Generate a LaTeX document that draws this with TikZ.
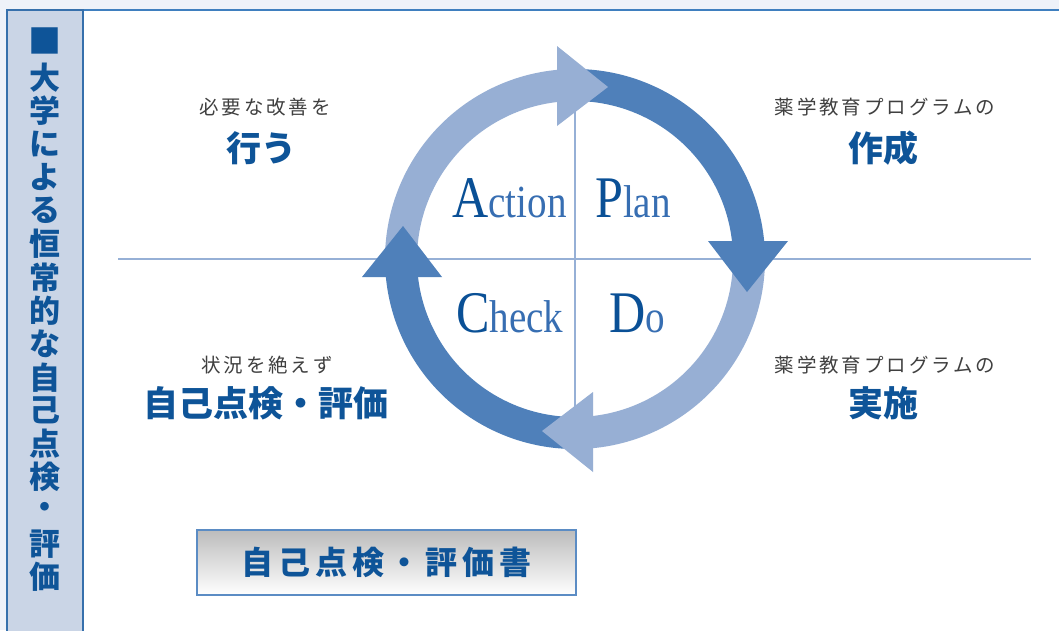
\documentclass[tikz,border=0pt]{standalone}
\usepackage{fontspec}
\newfontfamily\jp{Noto Sans CJK JP}
\newfontfamily\jpsp[LetterSpace=15]{Noto Sans CJK JP}
\newfontfamily\lat[FakeStretch=0.85]{Liberation Serif}
\usetikzlibrary{calc}
\definecolor{bgout}{RGB}{238,242,249}
\definecolor{topline}{RGB}{63,127,191}
\definecolor{side}{RGB}{202,213,230}
\definecolor{sideline}{RGB}{54,112,172}
\definecolor{bluetxt}{RGB}{14,84,152}
\definecolor{capblue}{RGB}{10,80,150}
\definecolor{lowblue}{RGB}{55,110,178}
\definecolor{graytxt}{RGB}{64,64,64}
\definecolor{crossline}{RGB}{150,176,214}
\definecolor{darkband}{RGB}{79,128,186}
\definecolor{lightband}{RGB}{151,175,212}
\definecolor{boxline}{RGB}{91,140,196}
\definecolor{boxtop}{RGB}{188,188,188}
\definecolor{boxmid}{RGB}{242,242,242}
\newcommand\pdcaband[3]{%
  \fill[#1] ($(c)+(#2:190)$) arc[start angle=#2, end angle=#3, radius=190]
    -- ($(c)+(#3:158)$) arc[start angle=#3, end angle=#2, radius=158] -- cycle;}
\tikzset{
  sidechar/.style={font=\jp\bfseries\fontsize{31}{31}\selectfont, text=bluetxt, inner sep=0pt},
  smalljp/.style={font=\jpsp\fontsize{19.5}{20}\selectfont, text=graytxt, inner sep=0pt},
  bigjp/.style={font=\jp\bfseries\fontsize{35}{36}\selectfont, text=bluetxt, inner sep=0pt},
  pdca/.style={anchor=base west, inner sep=0pt, font=\lat},
  crossl/.style={draw=crossline, line width=2.5pt},
  reportbox/.style={draw=boxline, line width=1.5pt, top color=boxtop, middle color=boxmid, bottom color=white,
     minimum width=379pt, minimum height=65pt, inner sep=0pt,
     font=\jpsp\bfseries\fontsize{32}{32}\selectfont, text=bluetxt}
}
\begin{document}
\begin{tikzpicture}[x=1pt,y=-1pt]
\useasboundingbox (0,0) rectangle (1059,630);
\fill[bgout] (0,0) rectangle (1059,630);
\fill[white] (84,10) rectangle (1059,631);
\draw[topline, line width=1.5pt] (7,10) -- (1059,10);
\filldraw[fill=side, draw=sideline, line width=1.2pt] (7,10) rectangle (83,640);
\node[font=\jp\fontsize{33}{33}\selectfont, text=bluetxt, inner sep=0pt] (sq) at (45,40.5) {■};
\foreach \ch [count=\i] in {大,学,に,よ,る,恒,常,的,な,自,己,点,検,・,評,価}
  \node[sidechar] (s\i) at (45,{77.5+(\i-1)*33.3}) {\ch};
% cross lines
\coordinate (c) at (575,259);
\coordinate (hl) at (118,259);
\coordinate (hr) at (1031,259);
\coordinate (vt) at (575,95);
\coordinate (vb) at (575,455);
\draw[crossl] (hl) -- (hr);
\draw[crossl] (vt) -- (vb);
% bands
\pdcaband{darkband}{-94}{-3}
\pdcaband{lightband}{-4}{87}
\pdcaband{darkband}{86}{177}
\pdcaband{lightband}{176}{267}
% heads
\fill[lightband] ($(c)+(-18,-213)$) -- ($(c)+(33,-172)$) -- ($(c)+(-18,-133)$) -- cycle;
\fill[darkband] ($(c)+(213,-18)$) -- ($(c)+(172,33)$) -- ($(c)+(133,-18)$) -- cycle;
\fill[lightband] ($(c)+(18,213)$) -- ($(c)+(-33,172)$) -- ($(c)+(18,133)$) -- cycle;
\fill[darkband] ($(c)+(-213,18)$) -- ($(c)+(-172,-33)$) -- ($(c)+(-133,18)$) -- cycle;
% PDCA words
\node[pdca] (act) at (452,217) {{\fontsize{59}{59}\selectfont\color{capblue}A}{\fontsize{46}{46}\selectfont\color{lowblue}ction}};
\node[pdca] (plan) at (595,217) {{\fontsize{59}{59}\selectfont\color{capblue}P}{\fontsize{46}{46}\selectfont\color{lowblue}lan}};
\node[pdca] (chk) at (456,332) {{\fontsize{59}{59}\selectfont\color{capblue}C}{\fontsize{46}{46}\selectfont\color{lowblue}heck}};
\node[pdca] (do) at (609,332) {{\fontsize{59}{59}\selectfont\color{capblue}D}{\fontsize{46}{46}\selectfont\color{lowblue}o}};
% labels
\node[smalljp] (a1) at (265,107) {必要な改善を};
\node[bigjp] (a2) at (261,148) {行う};
\node[smalljp] (p1) at (885,107) {薬学教育プログラムの};
\node[bigjp] (p2) at (883,148) {作成};
\node[smalljp] (c1) at (267,365) {状況を絶えず};
\node[bigjp] (c2) at (266,403) {自己点検・評価};
\node[smalljp] (d1) at (885,365) {薬学教育プログラムの};
\node[bigjp] (d2) at (883,403) {実施};
% report box
\node[reportbox] (box) at (386.5,562.5) {自己点検・評価書};
\end{tikzpicture}
\end{document}
